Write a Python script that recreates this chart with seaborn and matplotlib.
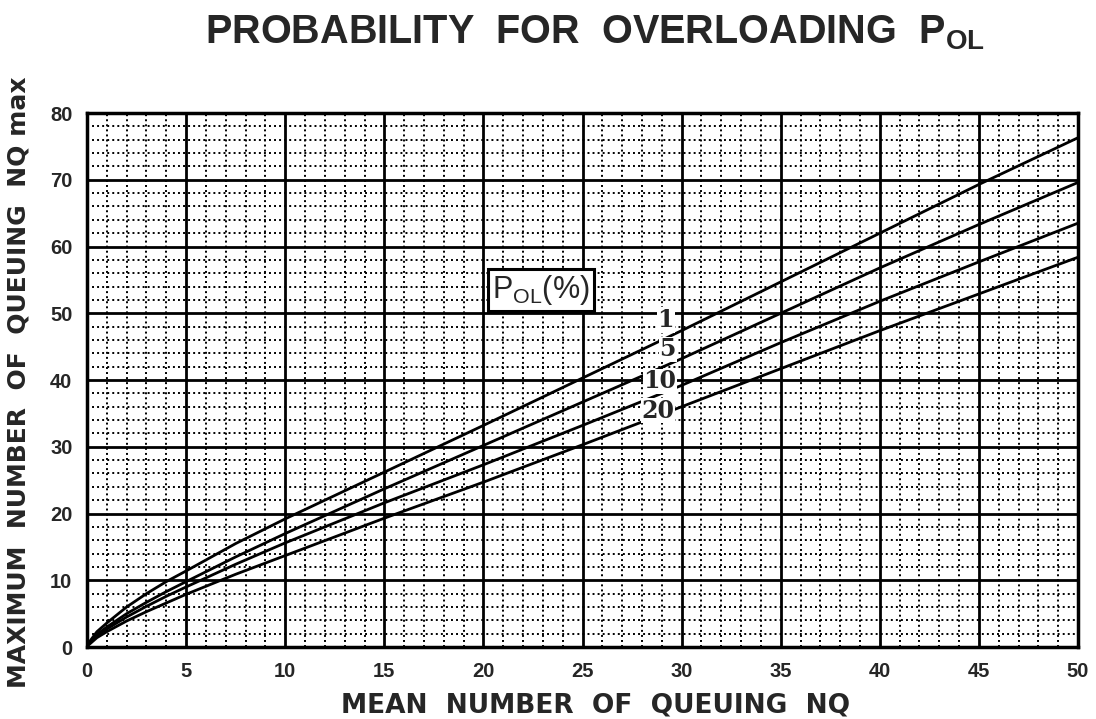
import numpy as np
import pandas as pd
import matplotlib
matplotlib.use("Agg")
import matplotlib.pyplot as plt
import seaborn as sns
from matplotlib.ticker import MultipleLocator

# ---- data ----
nq = [0, 0.5, 1, 2, 3, 4, 5, 7.5, 10, 15, 20, 25, 30, 35, 40, 45, 50]
p1 = [0.3, 2.3, 3.6, 6.0, 8.0, 9.8, 11.4, 15.5, 19.2, 26.2, 33.2, 40.3, 47.4, 54.7, 62.0, 69.3, 76.3]
p5 = [0.2, 1.9, 3.0, 5.0, 6.7, 8.3, 9.8, 13.5, 17.0, 23.7, 30.2, 36.7, 43.2, 50.0, 56.8, 63.3, 69.6]
p10 = [0.2, 1.7, 2.7, 4.5, 6.1, 7.6, 9.0, 12.4, 15.6, 21.6, 27.3, 33.2, 39.2, 45.6, 51.8, 57.7, 63.5]
p20 = [0.1, 1.4, 2.3, 3.9, 5.3, 6.6, 7.9, 10.9, 13.7, 19.3, 24.7, 30.3, 36.0, 41.7, 47.4, 52.9, 58.4]
pol_levels = ["1", "5", "10", "20"]
label_x = [29.2, 29.3, 28.9, 28.8]
label_y = [49.0, 44.6, 39.8, 35.4]

title = r"PROBABILITY  FOR  OVERLOADING  P$_{\mathregular{OL}}$"
xlabel = "MEAN  NUMBER  OF  QUEUING  NQ"
ylabel = "MAXIMUM  NUMBER  OF  QUEUING  NQ max"
legend_title = r"P$_{\mathregular{OL}}$(%)"

df = pd.DataFrame({
    "NQ": nq * 4,
    "NQmax": p1 + p5 + p10 + p20,
    "POL": sum([[lvl] * len(nq) for lvl in pol_levels], []),
})

sns.set_style("white")
plt.rcParams["font.family"] = ["Liberation Sans", "DejaVu Sans"]
plt.rcParams["mathtext.fontset"] = "custom"
plt.rcParams["mathtext.rm"] = "Liberation Sans:bold"
plt.rcParams["mathtext.it"] = "Liberation Sans:bold"
plt.rcParams["mathtext.bf"] = "Liberation Sans:bold"

fig = plt.figure(figsize=(10.96, 7.19), dpi=100)
ax = fig.add_axes([0.0794, 0.1001, 0.9042, 0.7427])

sns.lineplot(data=df, x="NQ", y="NQmax", hue="POL", palette=["black"] * 4,
             linewidth=2.0, legend=False, ax=ax, zorder=5)

ax.set_xlim(0, 50)
ax.set_ylim(0, 80)
ax.xaxis.set_major_locator(MultipleLocator(5))
ax.xaxis.set_minor_locator(MultipleLocator(1))
ax.yaxis.set_major_locator(MultipleLocator(10))
ax.yaxis.set_minor_locator(MultipleLocator(2))

ax.grid(which="major", color="black", linewidth=2.0, linestyle="-", zorder=1)
ax.grid(which="minor", color="black", linewidth=1.4, linestyle=(0, (1, 1.6)), zorder=1)
ax.set_axisbelow(True)

for s in ax.spines.values():
    s.set_linewidth(2.5)
    s.set_color("black")

ax.tick_params(which="both", direction="inout", color="black", width=1.8)
ax.tick_params(which="major", length=9, labelsize=14.5, pad=6)
ax.tick_params(which="minor", length=8)
for lab in ax.get_xticklabels() + ax.get_yticklabels():
    lab.set_fontweight("bold")

ax.set_xlabel(xlabel, fontsize=19, fontweight="bold", family="DejaVu Sans")
ax.set_ylabel(ylabel, fontsize=18, fontweight="bold", family="DejaVu Sans")
ax.xaxis.set_label_coords(0.513, -0.085)
ax.yaxis.set_label_coords(-0.057, 0.496)

fig.text(0.543, 0.955, title, fontsize=28.5, fontweight="bold", ha="center", va="center")

for lvl, lx, ly in zip(pol_levels, label_x, label_y):
    ax.text(lx, ly, lvl, fontsize=17, fontweight="bold", family="DejaVu Serif",
            ha="center", va="center", zorder=6,
            bbox=dict(facecolor="white", edgecolor="none", pad=0.5))

ax.text(22.9, 53.5, legend_title, fontsize=22, ha="center", va="center", zorder=6,
        bbox=dict(facecolor="white", edgecolor="black", linewidth=2.2, pad=3))

fig.savefig("out.png", dpi=100, facecolor="white")
